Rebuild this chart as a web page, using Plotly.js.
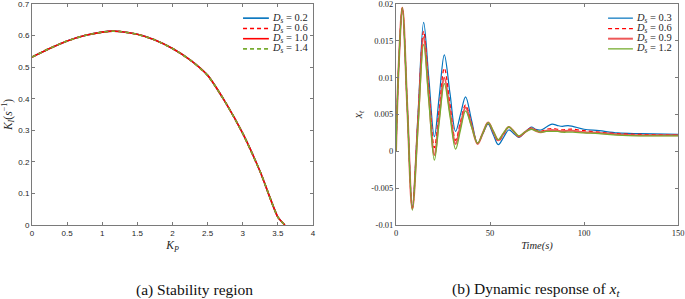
<!DOCTYPE html>
<html>
<head>
<meta charset="utf-8">
<script src="https://cdn.plot.ly/plotly-3.0.1.min.js"></script>
<style>html,body{margin:0;padding:0;background:#fff;}#chart{width:685px;height:299px;}</style>
</head>
<body>
<div id="chart"></div>
<script>
// ---------- Panel (a): stability region ----------
const kp      = [0, 0.25, 0.5, 0.75, 1.0, 1.15, 1.25, 1.5, 1.75, 2.0, 2.25, 2.5, 2.75, 3.0, 3.25, 3.5, 3.6];
const kiDs02  = [0.532, 0.559, 0.583, 0.600, 0.611, 0.614, 0.613, 0.604, 0.586, 0.559, 0.523, 0.474, 0.390, 0.290, 0.168, 0.025, 0.0];
const kiDs06  = [0.532, 0.559, 0.583, 0.600, 0.611, 0.614, 0.613, 0.604, 0.586, 0.559, 0.523, 0.474, 0.390, 0.290, 0.168, 0.025, 0.0];
const kiDs10  = [0.532, 0.559, 0.583, 0.600, 0.611, 0.614, 0.613, 0.604, 0.586, 0.559, 0.523, 0.474, 0.390, 0.290, 0.168, 0.025, 0.0];
const kiDs14  = [0.532, 0.559, 0.583, 0.600, 0.611, 0.614, 0.613, 0.604, 0.586, 0.559, 0.523, 0.474, 0.390, 0.290, 0.168, 0.025, 0.0];
const leftLabels = ['0.2', '0.6', '1.0', '1.4'];
const leftYTickVals = [0, 0.1, 0.2, 0.3, 0.4, 0.5, 0.6, 0.7];
const leftYTickText = ['0', '0.1', '0.2', '0.3', '0.4', '0.5', '0.6', '0.7'];
const leftXTickVals = [0, 0.5, 1, 1.5, 2, 2.5, 3, 3.5, 4];

// ---------- Panel (b): dynamic response of x_t ----------
const time   = [0, 1.5, 3.4, 6, 8.7, 11.7, 14.7, 17.5, 20.4, 23, 25.7, 28.7, 31.7, 34.3, 37, 40.2, 43.4, 46.2, 49, 51.7, 54.4, 57.2, 60, 62.7, 65.3, 68.6, 72, 74.3, 77, 80, 83, 86, 88.5, 91.5, 94, 100, 108, 118, 130, 150];
const xtDs03 = [0, 0.012, 0.0195, 0.006, -0.0075, 0.0050, 0.0175, 0.0098, 0.0020, 0.0075, 0.0131, 0.0079, 0.0027, 0.0050, 0.0074, 0.0042, 0.0011, 0.0024, 0.0037, 0.0023, 0.0009, 0.0019, 0.0029, 0.0024, 0.0019, 0.0026, 0.0033, 0.0030, 0.0029, 0.0033, 0.0037, 0.0035, 0.0034, 0.0035, 0.0034, 0.0030, 0.0028, 0.0025, 0.0024, 0.0023];
const xtDs06 = [0, 0.012, 0.0195, 0.006, -0.0077, 0.0045, 0.0163, 0.0085, 0.0005, 0.0058, 0.0113, 0.0064, 0.0015, 0.0040, 0.0063, 0.0037, 0.0011, 0.0025, 0.0039, 0.0027, 0.0014, 0.0023, 0.0033, 0.0027, 0.0020, 0.0026, 0.0032, 0.0029, 0.0027, 0.0030, 0.0031, 0.0030, 0.0029, 0.0030, 0.0030, 0.0028, 0.0026, 0.0024, 0.0023, 0.0022];
const xtDs09 = [0, 0.012, 0.0195, 0.006, -0.0078, 0.0039, 0.0155, 0.0075, -0.0005, 0.0048, 0.0100, 0.0055, 0.0010, 0.0035, 0.0060, 0.0035, 0.0010, 0.0025, 0.0039, 0.0027, 0.0015, 0.0024, 0.0033, 0.0027, 0.0020, 0.0026, 0.0031, 0.0028, 0.0026, 0.0028, 0.0029, 0.0028, 0.0027, 0.0028, 0.0028, 0.0026, 0.0025, 0.0023, 0.0022, 0.0022];
const xtDs12 = [0, 0.012, 0.0195, 0.006, -0.0080, 0.0033, 0.0145, 0.0067, -0.0012, 0.0040, 0.0092, 0.0048, 0.0003, 0.0029, 0.0055, 0.0033, 0.0011, 0.0025, 0.0039, 0.0028, 0.0016, 0.0025, 0.0033, 0.0027, 0.0021, 0.0026, 0.0030, 0.0028, 0.0026, 0.0027, 0.0027, 0.0027, 0.0026, 0.0026, 0.0026, 0.0025, 0.0024, 0.0022, 0.0021, 0.0021];
const rightLabels = ['0.3', '0.6', '0.9', '1.2'];
const rightYTickVals = [-0.01, -0.005, 0, 0.005, 0.01, 0.015, 0.02];
const rightYTickText = ['-0.01', '-0.005', '0', '0.005', '0.01', '0.015', '0.02'];
const rightXTickVals = [0, 50, 100, 150];

// ---------- styles ----------
const BLUE = '#0072BD', RED = '#FF0000', RED2 = 'rgba(235,70,70,0.9)', GREEN = '#77AC30';
const DASH = '4px,3px';
const leftStyles = [
  {color: BLUE, width: 1.6, dash: 'solid'},
  {color: RED, width: 1.6, dash: DASH},
  {color: RED, width: 1.6, dash: 'solid'},
  {color: GREEN, width: 1.6, dash: DASH}
];
const rightStyles = [
  {color: BLUE, width: 1.2, dash: 'solid'},
  {color: RED, width: 1.2, dash: DASH},
  {color: RED2, width: 2.0, dash: 'solid'},
  {color: GREEN, width: 1.3, dash: 'solid'}
];

const SERIF = 'Liberation Serif';
const SANS = 'Liberation Sans';
const AX = '#7a7a7a';
const TXT = '#262626';

const leftY = [kiDs02, kiDs06, kiDs10, kiDs14];
const rightY = [xtDs03, xtDs06, xtDs09, xtDs12];

const traces = [];
leftY.forEach((ys, i) => traces.push({
  type: 'scatter', mode: 'lines', x: kp, y: ys, xaxis: 'x', yaxis: 'y',
  line: {color: leftStyles[i].color, width: leftStyles[i].width, dash: leftStyles[i].dash, shape: 'spline', smoothing: 0.6},
  name: 'D_s = ' + leftLabels[i], showlegend: false, hoverinfo: 'skip'
}));
rightY.forEach((ys, i) => traces.push({
  type: 'scatter', mode: 'lines', x: time, y: ys, xaxis: 'x2', yaxis: 'y2',
  line: {color: rightStyles[i].color, width: rightStyles[i].width, dash: rightStyles[i].dash, shape: 'spline', smoothing: 1},
  name: 'D_s = ' + rightLabels[i], showlegend: false, hoverinfo: 'skip'
}));

// ---------- manual legends (compact, MATLAB-like) ----------
const shapes = [], annotations = [];
const rowY = [0.936, 0.889, 0.843, 0.797];
function addLegend(xref, yref, x0, x1, xt, labels, styles) {
  labels.forEach((lab, i) => {
    shapes.push({type: 'line', xref: xref, yref: yref, x0: x0, x1: x1, y0: rowY[i], y1: rowY[i],
      line: {color: styles[i].color, width: styles[i].width, dash: styles[i].dash}});
    annotations.push({xref: xref, yref: yref, x: xt, y: rowY[i], xanchor: 'left', yanchor: 'middle',
      showarrow: false, text: '<i>D<sub>s</sub></i> = ' + lab, font: {family: SERIF, size: 10.5, color: TXT}});
  });
}
addLegend('x domain', 'y domain', 0.751, 0.843, 0.848, leftLabels, leftStyles);
addLegend('x2 domain', 'y2 domain', 0.752, 0.840, 0.845, rightLabels, rightStyles);

// end labels of the left y axis ("0" and "0.7"), placed through the y axis scale
[0, leftYTickVals.length - 1].forEach(function (k) {
  annotations.push({xref: 'paper', yref: 'y', x: 30.5/685, y: leftYTickVals[k], xanchor: 'right', yanchor: 'middle',
    showarrow: false, borderpad: 0, text: leftYTickText[k], font: {family: SANS, size: 8, color: TXT}});
});

// captions
annotations.push({xref: 'paper', yref: 'paper', x: 194/685, y: -0.293, xanchor: 'center', yanchor: 'middle',
  showarrow: false, text: '(a) Stability region', font: {family: SERIF, size: 15.5, color: '#111'}});
annotations.push({xref: 'paper', yref: 'paper', x: 536/685, y: -0.293, xanchor: 'center', yanchor: 'middle',
  showarrow: false, text: '(b) Dynamic response of <i>x<sub>t</sub></i>', font: {family: SERIF, size: 15.5, color: '#111'}});

const axBase = {showgrid: false, zeroline: false, showline: true, linecolor: AX, linewidth: 1,
  mirror: 'ticks', ticks: 'inside', ticklen: 3, tickcolor: AX, tickwidth: 1, automargin: false,
  ticklabeloverflow: 'allow'};

const layout = {
  width: 685, height: 299,
  margin: {l: 0, r: 0, t: 4, b: 74, pad: 0},
  paper_bgcolor: '#fff', plot_bgcolor: '#fff',
  showlegend: false,
  xaxis: Object.assign({}, axBase, {
    domain: [32/685, 313/685], anchor: 'y', range: [0, 4], tickvals: leftXTickVals,
    tickfont: {family: SANS, size: 8, color: TXT},
    title: {text: '<i>K<sub>P</sub></i>', font: {family: SERIF, size: 11.5, color: TXT}, standoff: 4}
  }),
  yaxis: Object.assign({}, axBase, {
    domain: [0, 1], anchor: 'x', range: [0, 0.7], tickvals: leftYTickVals.slice(1, -1), ticktext: leftYTickText.slice(1, -1),
    tickfont: {family: SANS, size: 8, color: TXT},
    title: {text: '<i>K<sub>I</sub></i>(<i>s</i><sup>−1</sup>)', font: {family: SERIF, size: 11.5, color: TXT}, standoff: 6}
  }),
  xaxis2: Object.assign({}, axBase, {
    domain: [396/685, 678/685], anchor: 'y2', range: [0, 150], tickvals: rightXTickVals,
    tickfont: {family: SERIF, size: 8.5, color: TXT},
    title: {text: '<i>Time(s)</i>', font: {family: SERIF, size: 10.5, color: TXT}, standoff: 4}
  }),
  yaxis2: Object.assign({}, axBase, {
    domain: [0, 1], anchor: 'x2', range: [-0.01, 0.02], tickvals: rightYTickVals, ticktext: rightYTickText,
    tickfont: {family: SERIF, size: 8.5, color: TXT},
    title: {text: '<i>x<sub>t</sub></i>', font: {family: SERIF, size: 11.5, color: TXT}, standoff: 6}
  }),
  shapes: shapes,
  annotations: annotations
};

Plotly.newPlot('chart', traces, layout, {displayModeBar: false});
</script>
</body>
</html>
